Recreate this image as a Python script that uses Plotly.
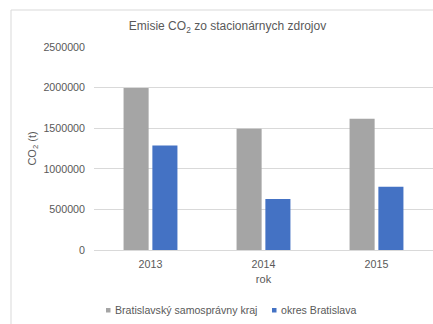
import plotly.graph_objects as go

years = ["2013", "2014", "2015"]
kraj = [1995000, 1494000, 1617000]
okres = [1287000, 627000, 780000]
series_names = ["Bratislavský samosprávny kraj", "okres Bratislava"]
series_colors = ["#A5A5A5", "#4472C4"]
y_ticks = [0, 500000, 1000000, 1500000, 2000000, 2500000]

FONT = "Liberation Sans, Arial, sans-serif"
TXT = "#595959"
W, H = 433, 324
L, R, T, B = 94, 0, 47, 74
PW, PH = W - L - R, H - T - B


def px(X):
    return (X - L) / PW


def py(Y):
    return (H - B - Y) / PH


fig = go.Figure()
for vals, name, col in zip([kraj, okres], series_names, series_colors):
    fig.add_trace(go.Bar(x=years, y=vals, name=name, marker_color=col,
                         marker_line=dict(width=0), showlegend=False))

fig.update_layout(
    width=W, height=H,
    margin=dict(l=L, r=R, t=T, b=B, autoexpand=False),
    paper_bgcolor="white", plot_bgcolor="white",
    font=dict(family=FONT, size=11, color=TXT),
    barmode="group", bargap=0.49, bargroupgap=0.13,
    title=dict(text="Emisie CO<sub>2</sub> zo stacionárnych zdrojov",
               x=227.5 / W, xref="container", xanchor="center", y=1 - 26 / H, yref="container",
               yanchor="middle", font=dict(size=12, color=TXT)),
    showlegend=False,
)

fig.update_yaxes(range=[0, 2500000], tickvals=y_ticks, ticktext=[str(v) for v in y_ticks],
                 showgrid=True, gridcolor="#D9D9D9", gridwidth=1, zeroline=False,
                 showline=False, ticks="", ticklabelstandoff=8, tickfont=dict(size=10.7),
                 title=dict(text="CO<sub>2</sub> (t)", font=dict(size=11, color=TXT), standoff=4))
fig.update_xaxes(showgrid=False, showline=True, linecolor="#D9D9D9", linewidth=1,
                 ticks="", ticklabelstandoff=4, tickfont=dict(size=10.7),
                 title=dict(text="rok", font=dict(size=11, color=TXT), standoff=6))

# chart border (left & top)
fig.add_shape(type="line", xref="paper", yref="paper",
              x0=px(11), x1=px(11), y0=py(10), y1=py(H + 5),
              line=dict(color="#D9D9D9", width=1))
fig.add_shape(type="line", xref="paper", yref="paper",
              x0=px(11), x1=px(W + 5), y0=py(10), y1=py(10),
              line=dict(color="#D9D9D9", width=1))

# legend (drawn manually to match compact layout)
legend_x = [106, 272]
for lx, name, col in zip(legend_x, series_names, series_colors):
    fig.add_shape(type="rect", xref="paper", yref="paper",
                  x0=px(lx), x1=px(lx + 4.5), y0=py(312.5), y1=py(308),
                  fillcolor=col, line=dict(width=0))
    fig.add_annotation(text=name, xref="paper", yref="paper", x=px(lx + 7), y=py(310.3),
                       xanchor="left", yanchor="middle", showarrow=False,
                       font=dict(size=10.6, color=TXT))

fig.write_html("out.html", config={"displayModeBar": False},
               post_script="document.body.style.margin='0px';document.body.style.overflow='hidden';")
